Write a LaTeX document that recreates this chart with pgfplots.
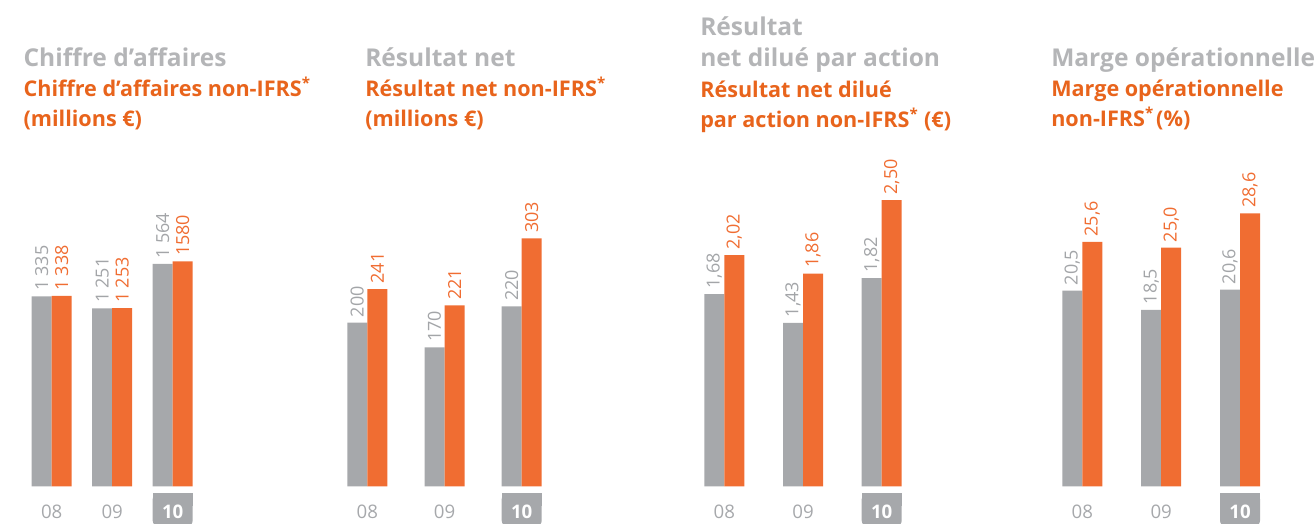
\documentclass[border=0pt]{standalone}
\usepackage{pgfplots}
\pgfplotsset{compat=1.18}
\usepackage{pgfplotstable}
\usepackage{fontspec}
\setmainfont{Open Sans}
\definecolor{bargray}{HTML}{A6A8AB}
\definecolor{barorange}{HTML}{F06D32}
\definecolor{lblgray}{HTML}{A3A5A8}
\definecolor{lblorange}{HTML}{F06D32}
\definecolor{titlegray}{HTML}{B4B5B7}
\definecolor{titleorange}{HTML}{E8641C}
\definecolor{yeargray}{HTML}{A6A8AB}
\newcommand{\gfont}{\fontsize{18.4}{20}\selectfont\bfseries}
\newcommand{\ofont}{\fontsize{16.2}{20}\selectfont\bfseries}
\newcommand{\lfont}{\fontsize{13.5}{15}\selectfont}
\newcommand{\yfont}{\fontsize{14}{15}\selectfont}

\pgfplotstableread{
x g o glab olab
0 1335 1338 {1\hspace{0.22em}335} {1\hspace{0.22em}338}
1 1251 1253 {1\hspace{0.22em}251} {1\hspace{0.22em}253}
2 1564 1580 {1\hspace{0.22em}564} {1580}
}\tabA
\pgfplotstableread{
x g o glab olab
0 200 241 200 241
1 170 221 170 221
2 220 303 220 303
}\tabB
\pgfplotstableread{
x g o glab olab
0 1.68 2.02 {1,68} {2,02}
1 1.43 1.86 {1,43} {1,86}
2 1.82 2.50 {1,82} {2,50}
}\tabC
\pgfplotstableread{
x g o glab olab
0 20.5 25.6 {20,5} {25,6}
1 18.5 25.0 {18,5} {25,0}
2 20.6 28.6 {20,6} {28,6}
}\tabD

\pgfplotsset{
  panel/.style={
    scale only axis,
    anchor=south west,
    height=225pt,
    ybar=0pt, bar width=15pt,
    ymin=0, xmin=-0.5, xmax=2.5,
    enlargelimits=false,
    axis line style={draw=none},
    ytick=\empty,
    xtick={0,1,2},
    xticklabels={08,09,{\color{white}\bfseries 10}},
    major tick length=0pt,
    xticklabel style={anchor=center, yshift=-19pt, font=\yfont, text=yeargray},
    clip=false,
    axis on top=true,
    point meta=explicit symbolic,
    nodes near coords,
    nodes near coords align={horizontal},
    every node near coord/.append style={rotate=90, anchor=west, font=\lfont, inner sep=4pt},
  },
}
\newcommand{\tab}{%
  \fill[bargray, rounded corners=4.5pt] ([xshift=-15pt, yshift=-5pt]axis cs:2,0) rectangle ([xshift=15pt, yshift=-30pt]axis cs:2,0);
  \fill[bargray] ([xshift=-15pt, yshift=-5pt]axis cs:2,0) rectangle ([xshift=15pt, yshift=-15pt]axis cs:2,0);
}

\begin{document}
\begin{tikzpicture}
\path[use as bounding box] (0pt,0pt) rectangle (986.25pt,393pt);

% Panel 1
\begin{axis}[panel, at={(16.09pt,28.125pt)}, width=136.1pt, ymax=2106.7]
\addplot[fill=bargray, draw=none, every node near coord/.append style={text=lblgray}] table[x=x, y=g, meta=glab] {\tabA};
\addplot[fill=barorange, draw=none, every node near coord/.append style={text=lblorange}] table[x=x, y=o, meta=olab] {\tabA};
\tab
\end{axis}

% Panel 2
\begin{axis}[panel, at={(246.53pt,28.125pt)}, width=173.7pt, ymax=366.3]
\addplot[fill=bargray, draw=none, every node near coord/.append style={text=lblgray}] table[x=x, y=g, meta=glab] {\tabB};
\addplot[fill=barorange, draw=none, every node near coord/.append style={text=lblorange}] table[x=x, y=o, meta=olab] {\tabB};
\tab
\end{axis}

% Panel 3
\begin{axis}[panel, at={(513.71pt,28.125pt)}, width=177.1pt, ymax=2.620]
\addplot[fill=bargray, draw=none, every node near coord/.append style={text=lblgray}] table[x=x, y=g, meta=glab] {\tabC};
\addplot[fill=barorange, draw=none, every node near coord/.append style={text=lblorange}] table[x=x, y=o, meta=olab] {\tabC};
\tab
\end{axis}

% Panel 4
\begin{axis}[panel, at={(782.18pt,28.125pt)}, width=177.4pt, ymax=31.41]
\addplot[fill=bargray, draw=none, every node near coord/.append style={text=lblgray}] table[x=x, y=g, meta=glab] {\tabD};
\addplot[fill=barorange, draw=none, every node near coord/.append style={text=lblorange}] table[x=x, y=o, meta=olab] {\tabD};
\tab
\end{axis}

% Titles
\begin{scope}[x=0.75pt, y=0.75pt, every node/.style={anchor=base west, inner sep=0pt}]
\node[text=titlegray, font=\gfont] at (23.3,457.3) {Chiffre d’affaires};
\node[text=titleorange, font=\ofont] at (23.3,427.3) {Chiffre d’affaires non-IFRS\textsuperscript{*}};
\node[text=titleorange, font=\ofont] at (23.3,397.3) {(millions €)};

\node[text=titlegray, font=\gfont] at (365,457.3) {Résultat net};
\node[text=titleorange, font=\ofont] at (365,427.3) {Résultat net non-IFRS\textsuperscript{*}};
\node[text=titleorange, font=\ofont] at (365,397.3) {(millions €)};

\node[text=titlegray, font=\gfont] at (700,488) {Résultat};
\node[text=titlegray, font=\gfont] at (700,457.5) {net dilué par action};
\node[text=titleorange, font=\ofont] at (700,426.5) {Résultat net dilué};
\node[text=titleorange, font=\ofont] at (700,396) {par action non-IFRS\textsuperscript{*} (€)};

\node[text=titlegray, font=\gfont] at (1051,457.3) {Marge opérationnelle};
\node[text=titleorange, font=\ofont] at (1051,427.3) {Marge opérationnelle};
\node[text=titleorange, font=\ofont] at (1051,397.3) {non-IFRS\textsuperscript{*}\hspace{0.1em}(\%)};
\end{scope}
\end{tikzpicture}
\end{document}
